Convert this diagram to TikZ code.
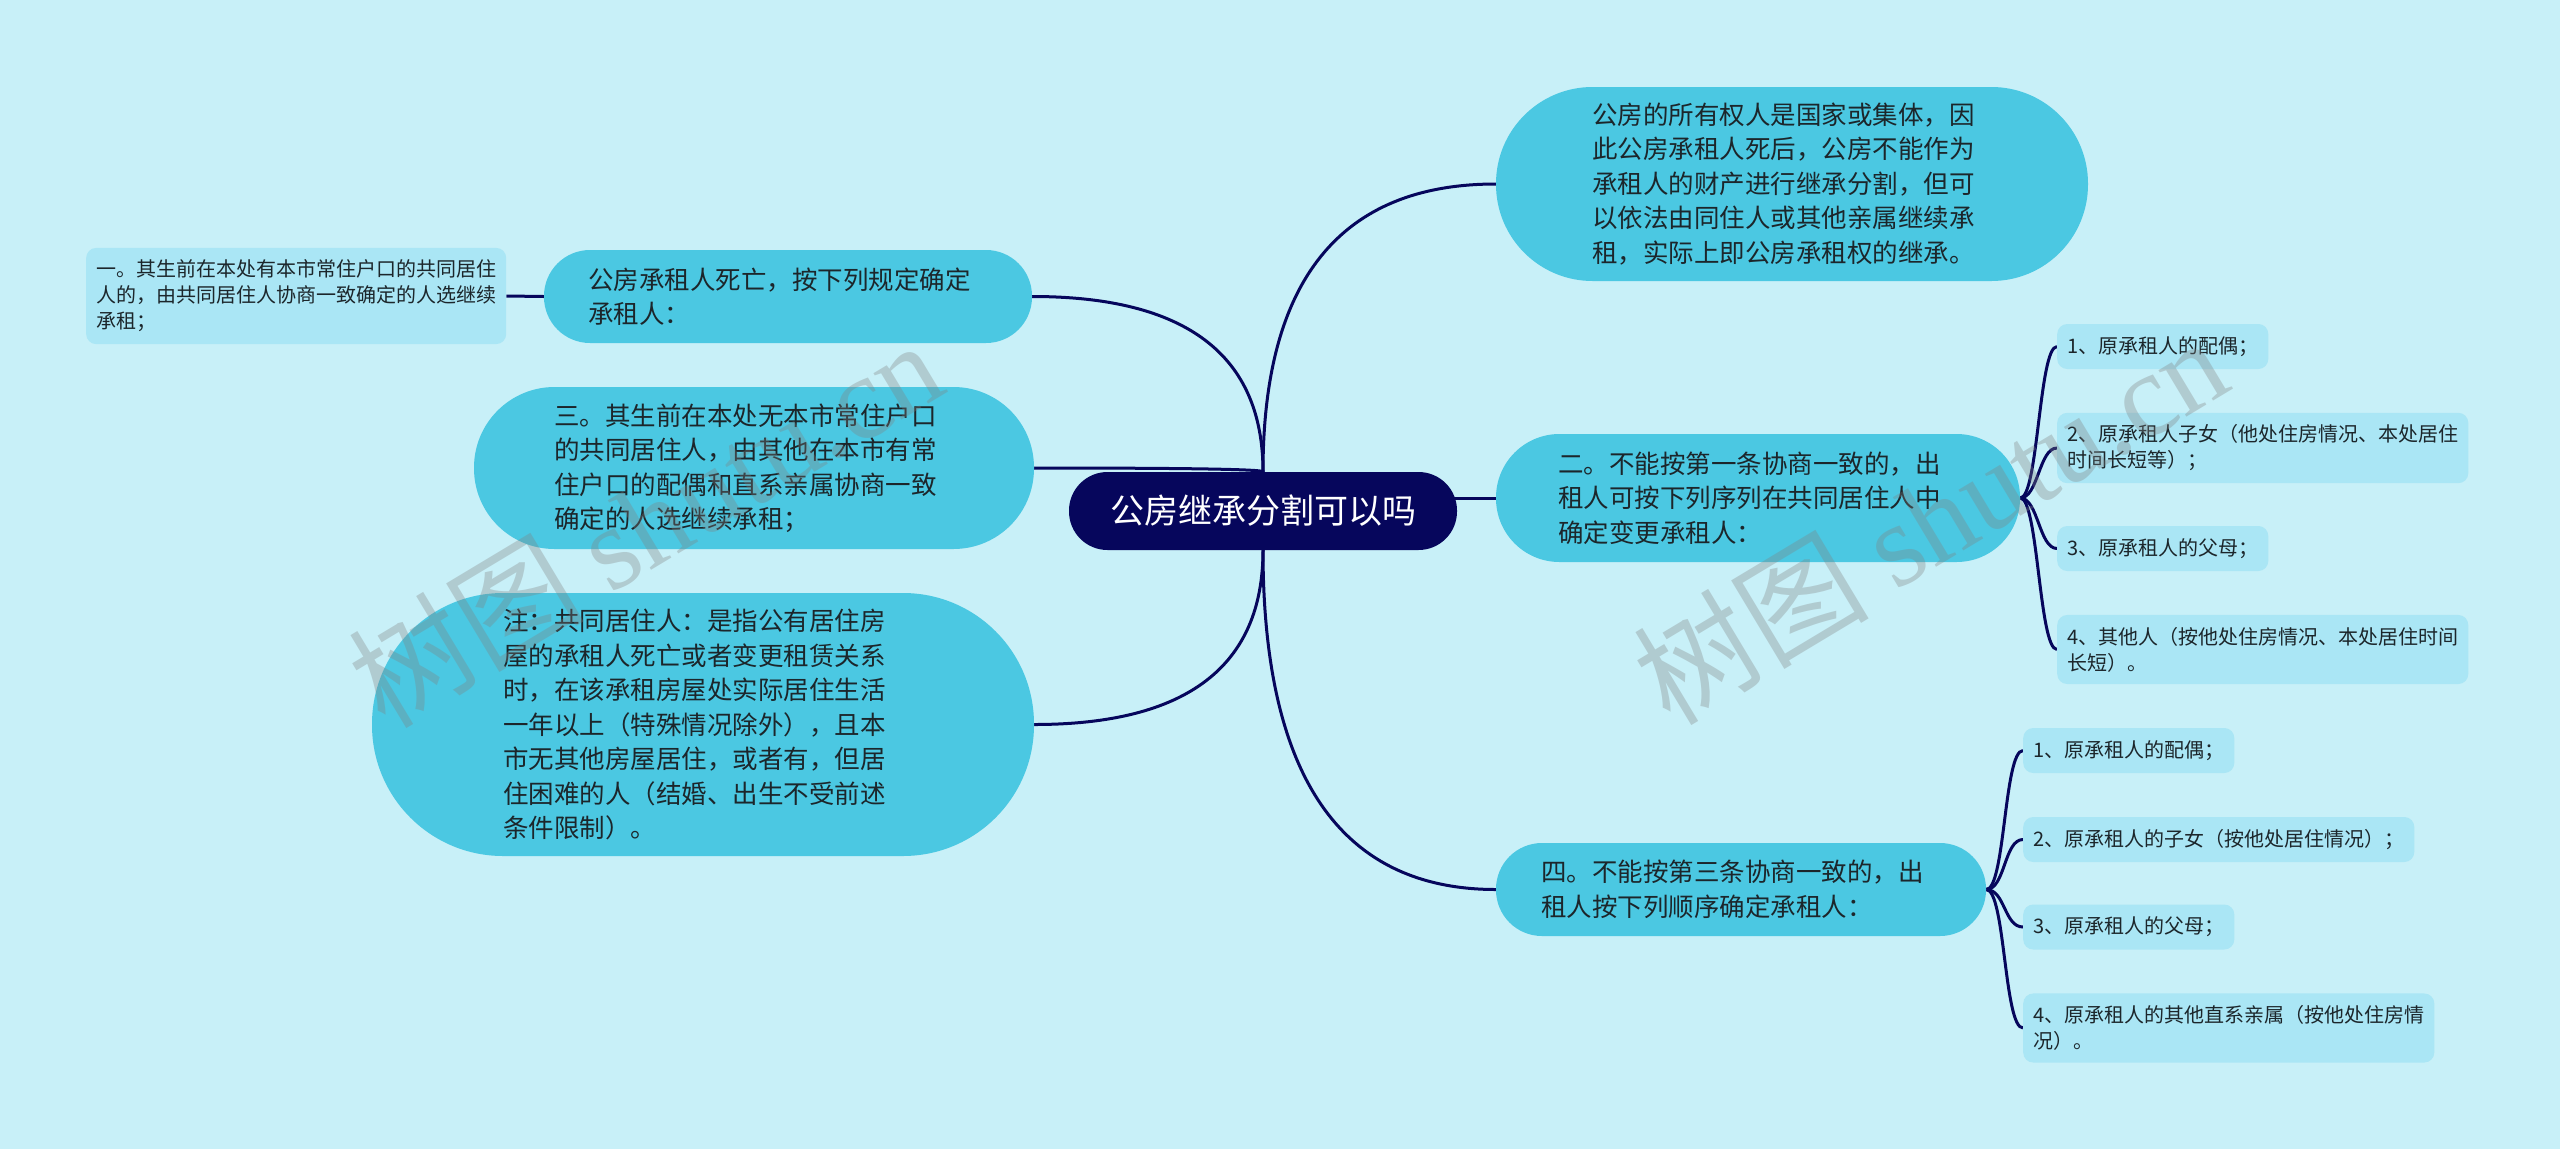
\documentclass[tikz,border=0pt]{standalone}
\usepackage{fontspec}
\setmainfont{Noto Sans CJK SC}
\newfontfamily\wmlatin{Liberation Serif}
\usetikzlibrary{calc}
\definecolor{bgcyan}{HTML}{C8F0F8}
\definecolor{topicblue}{HTML}{4BC8E2}
\definecolor{leafblue}{HTML}{AAE6F5}
\definecolor{rootnavy}{HTML}{06065C}
\definecolor{inkgray}{HTML}{1C262B}
\pgfdeclarelayer{back}
\pgfdeclarelayer{links}
\pgfsetlayers{back,links,main}
\tikzset{
  link/.style={draw=rootnavy, line width=3pt},
  root/.style={fill=rootnavy, text=white, font=\fontsize{34}{40}\selectfont,
    minimum width=388pt, minimum height=78pt, rounded corners=38.5pt, inner sep=0pt},
  topic/.style 2 args={fill=topicblue, text=inkgray, font=\fontsize{25.5}{34.5}\selectfont,
    text width=400pt, align=left, inner ysep=4pt, inner xsep=#1pt,
    minimum height=#2pt, rounded corners={(#2/2-0.5)*1pt}},
  leaf/.style={fill=leafblue, text=inkgray, font=\fontsize{20}{26}\selectfont, align=left,
    inner xsep=10pt, inner ysep=12pt, minimum height=45pt, rounded corners=10pt, anchor=west},
  watermark/.style={text=gray, opacity=0.33, font=\fontsize{118}{118}\selectfont, rotate=31}
}
% curve from the root, vertical first, then level into the topic
\newcommand{\branchto}[2]{\draw[link] (#1) .. controls ($(#1)!2/3!(#1|-#2)$) and ($(#2)!2/3!(#1|-#2)$) .. (#2);}
\begin{document}
\begin{tikzpicture}[x=1pt,y=-1pt]
  \useasboundingbox (0,0) rectangle (2560,1149);
  \begin{pgfonlayer}{back}
    \fill[bgcyan] (0,0) rectangle (2560,1149);
  \end{pgfonlayer}

  \node[root] (root) at (1263,511) {公房继承分割可以吗};

  % left side
  \node[topic={44}{93}] (heir) at (788,296.5) {公房承租人死亡，按下列规定确定\\承租人：};
  \node[leaf] (first) at (86,296) {一。其生前在本处有本市常住户口的共同居住\\人的，由共同居住人协商一致确定的人选继续\\承租；};
  \node[topic={80}{162}] (third) at (754,468) {三。其生前在本处无本市常住户口\\的共同居住人，由其他在本市有常\\住户口的配偶和直系亲属协商一致\\确定的人选继续承租；};
  \node[topic={131}{263}] (note) at (703,724.5) {注：共同居住人：是指公有居住房\\屋的承租人死亡或者变更租赁关系\\时，在该承租房屋处实际居住生活\\一年以上（特殊情况除外），且本\\市无其他房屋居住，或者有，但居\\住困难的人（结婚、出生不受前述\\条件限制）。};

  % right side
  \node[topic={96}{194}] (owner) at (1792,184) {公房的所有权人是国家或集体，因\\此公房承租人死后，公房不能作为\\承租人的财产进行继承分割，但可\\以依法由同住人或其他亲属继续承\\租，实际上即公房承租权的继承。};
  \node[topic={62}{128}] (second) at (1758,498) {二。不能按第一条协商一致的，出\\租人可按下列序列在共同居住人中\\确定变更承租人：};
  \node[topic={45}{93}] (fourth) at (1741,889.5) {四。不能按第三条协商一致的，出\\租人按下列顺序确定承租人：};

  \node[leaf] (e1) at (2057,346.5) {1、原承租人的配偶；};
  \node[leaf] (e2) at (2057,448) {2、原承租人子女（他处住房情况、本处居住\\时间长短等）；};
  \node[leaf] (e3) at (2057,548.5) {3、原承租人的父母；};
  \node[leaf] (e4) at (2057,649.5) {4、其他人（按他处住房情况、本处居住时间\\长短）。};

  \node[leaf] (f1) at (2023,750.5) {1、原承租人的配偶；};
  \node[leaf] (f2) at (2023,839.5) {2、原承租人的子女（按他处居住情况）；};
  \node[leaf] (f3) at (2023,927) {3、原承租人的父母；};
  \node[leaf] (f4) at (2023,1028) {4、原承租人的其他直系亲属（按他处住房情\\况）。};

  \begin{pgfonlayer}{links}
    \branchto{root.north}{heir.east}
    \branchto{root.north}{third.east}
    \branchto{root.south}{note.east}
    \branchto{root.north}{owner.west}
    \branchto{root.south}{fourth.west}
    \draw[link] (root.center|-second.west) -- (second.west);
    \draw[link] (heir.west) -- (first.east);
    \foreach \leaf in {e1,e2,e3,e4}
      \draw[link] (second.east) .. controls ($(second.east)+(18,0)$) and ($(\leaf.west)+(-18,0)$) .. (\leaf.west);
    \foreach \leaf in {f1,f2,f3,f4}
      \draw[link] (fourth.east) .. controls ($(fourth.east)+(19,0)$) and ($(\leaf.west)+(-19,0)$) .. (\leaf.west);
  \end{pgfonlayer}

  % site marks
  \node[watermark] (markleft) at (645,522) {树图 {\wmlatin shutu.cn}};
  \node[watermark] (markright) at (1930,519) {树图 {\wmlatin shutu.cn}};
\end{tikzpicture}
\end{document}
